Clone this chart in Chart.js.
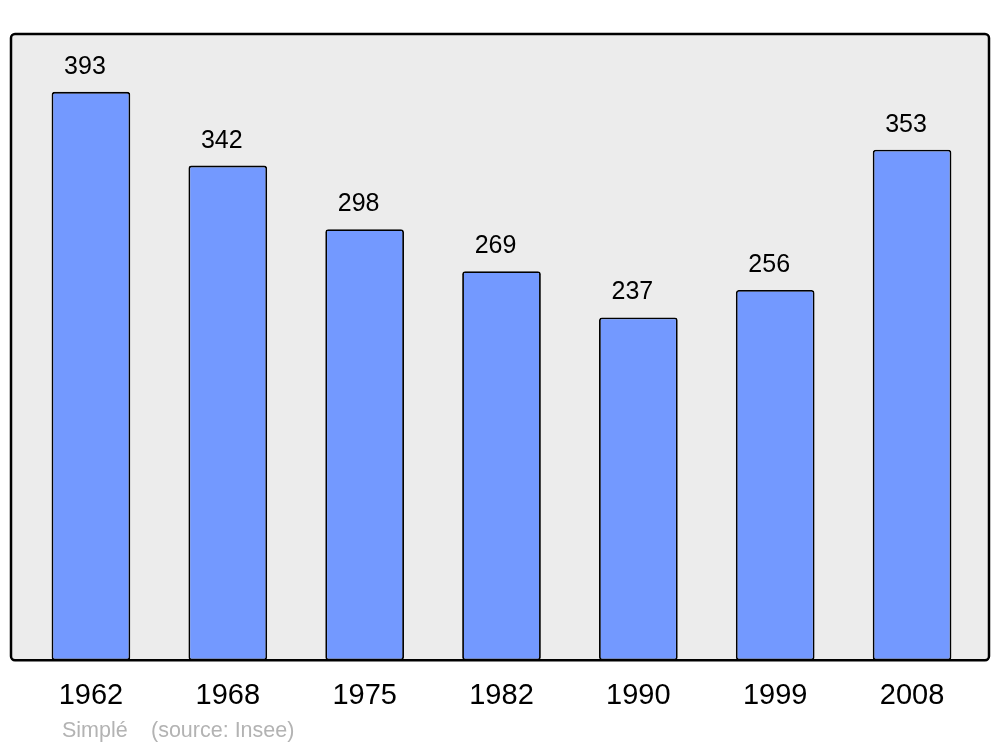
<!DOCTYPE html>
<html>
<head>
<meta charset="utf-8">
<script src="https://cdn.jsdelivr.net/npm/chart.js@4/dist/chart.umd.min.js"></script>
<style>
  html, body { margin: 0; padding: 0; background: #ffffff; }
  #wrap { width: 1000px; height: 747px; }
</style>
</head>
<body>
<div id="wrap"><canvas id="popChart" width="1000" height="747"></canvas></div>
<script>
  // ---- DATA ----
  const years = ["1962", "1968", "1975", "1982", "1990", "1999", "2008"];
  const population = [393, 342, 298, 269, 237, 256, 353];
  const footerName = "Simplé";
  const footerSource = "(source: Insee)";

  // gray panel behind the bars
  const panelPlugin = {
    id: "panel",
    beforeDraw(chart) {
      const ctx = chart.ctx;
      const area = chart.chartArea;
      ctx.save();
      ctx.beginPath();
      ctx.roundRect(11, 34, 978, area.bottom - 34, 4);
      ctx.fillStyle = "#ececec";
      ctx.fill();
      ctx.restore();
    },
    afterDatasetsDraw(chart) {
      const ctx = chart.ctx;
      const area = chart.chartArea;
      ctx.save();
      ctx.beginPath();
      ctx.roundRect(11, 34, 978, area.bottom - 34, 4);
      ctx.lineWidth = 2.5;
      ctx.strokeStyle = "#000000";
      ctx.stroke();

      // value labels over each bar
      ctx.font = "25px 'Liberation Sans', Arial, sans-serif";
      ctx.fillStyle = "#000000";
      ctx.textAlign = "center";
      ctx.textBaseline = "alphabetic";
      chart.getDatasetMeta(0).data.forEach((bar, i) => {
        ctx.fillText(String(population[i]), bar.x - 6, bar.y - 18);
      });

      // footer
      ctx.font = "21.5px 'Liberation Sans', Arial, sans-serif";
      ctx.fillStyle = "#b3b3b3";
      ctx.textAlign = "left";
      ctx.fillText(footerName, 62, 737);
      ctx.fillText(footerSource, 151, 737);
      ctx.restore();
    }
  };

  new Chart(document.getElementById("popChart"), {
    type: "bar",
    data: {
      labels: years,
      datasets: [{
        data: population,
        backgroundColor: "#7399ff",
        borderColor: "#000000",
        borderWidth: 1.8,
        borderRadius: 3,
        borderSkipped: false,
        barPercentage: 0.575,
        categoryPercentage: 1
      }]
    },
    options: {
      responsive: false,
      animation: false,
      layout: { padding: { top: 34, bottom: 16, left: 22.5, right: 19.5 } },
      plugins: {
        legend: { display: false },
        tooltip: { enabled: false }
      },
      scales: {
        x: {
          grid: { display: false, drawTicks: false },
          border: { display: false },
          ticks: {
            color: "#000000",
            padding: 18,
            font: { size: 29, family: "'Liberation Sans', Arial, sans-serif" }
          }
        },
        y: {
          display: false,
          min: 0,
          max: 433
        }
      }
    },
    plugins: [panelPlugin]
  });
</script>
</body>
</html>
